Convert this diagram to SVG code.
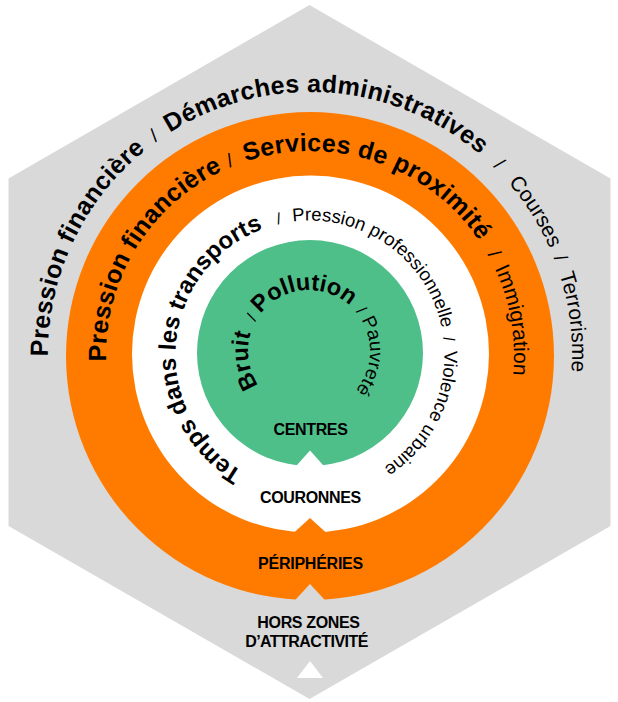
<svg xmlns="http://www.w3.org/2000/svg" xmlns:xlink="http://www.w3.org/1999/xlink" width="618" height="702" viewBox="0 0 618 702">
  <style>
    text { font-family: "Liberation Sans", Arial, sans-serif; fill: #000; }
    .big { font-size: 25px; font-weight: bold; letter-spacing: 0.3px; }
    .reg { font-size: 21px; }
    .sl { font-size: 19px; }
    .mid { font-size: 24px; font-weight: bold; }
    .sm { font-size: 18.5px; }
    .sl2 { font-size: 16px; }
    .cb { font-size: 23.5px; font-weight: bold; }
    .cr { font-size: 19px; }
    .lab { font-size: 16px; font-weight: bold; text-anchor: middle; letter-spacing: -0.35px; }
    .tp { text-anchor: middle; }
  </style>
  <defs>
    <path id="pg" d="M310,616 A262,262 0 1,1 310,92 A262,262 0 1,1 310,616"/>
    <path id="po" d="M310,559 A204,204 0 1,1 310,151 A204,204 0 1,1 310,559"/>
    <path id="pw" d="M310,489.5 A134.5,134.5 0 1,1 310,220.5 A134.5,134.5 0 1,1 310,489.5"/>
    <path id="pc" d="M309,412 A61,61 0 1,1 309,290 A61,61 0 1,1 309,412"/>
  </defs>

  <g id="hors-zones">
    <polygon points="309.5,5 610.5,178.5 610.5,526 309.5,699 8.5,526 8.5,178.5" fill="#d9d9d9"/>
    <polygon points="310,661 297,678 323,678" fill="#ffffff"/>
  </g>

  <g id="peripheries">
    <circle cx="310" cy="356" r="244" fill="#ff7b00"/>
    <polygon points="310,584 291.5,604 328.5,604" fill="#d9d9d9"/>
  </g>

  <g id="couronnes">
    <circle cx="310.5" cy="354" r="178.5" fill="#ffffff"/>
    <polygon points="310,518 288,538 332,538" fill="#ff7b00"/>
  </g>

  <g id="centres">
    <circle cx="310" cy="353" r="113" fill="#4fbf8a"/>
    <polygon points="310,450.5 292.5,470 327.5,470" fill="#ffffff"/>
  </g>

  <g id="texts-outer">
    <text class="big"><textPath xlink:href="#pg" href="#pg" startOffset="527.2" class="tp">Pression financière</textPath></text>
    <text class="sl"><textPath xlink:href="#pg" href="#pg" startOffset="660.3" class="tp">/</textPath></text>
    <text class="big"><textPath xlink:href="#pg" href="#pg" startOffset="841.4" class="tp">Démarches administratives</textPath></text>
    <text class="sl"><textPath xlink:href="#pg" href="#pg" startOffset="1028" class="tp">/</textPath></text>
    <text class="reg"><textPath xlink:href="#pg" href="#pg" startOffset="1086.5" class="tp">Courses</textPath></text>
    <text class="sl"><textPath xlink:href="#pg" href="#pg" startOffset="1138.2" class="tp">/</textPath></text>
    <text class="reg"><textPath xlink:href="#pg" href="#pg" startOffset="1202.6" class="tp">Terrorisme</textPath></text>
  </g>

  <g id="texts-orange">
    <text class="big"><textPath xlink:href="#po" href="#po" startOffset="432.2" class="tp">Pression financière</textPath></text>
    <text class="sl"><textPath xlink:href="#po" href="#po" startOffset="560.8" class="tp">/</textPath></text>
    <text class="big"><textPath xlink:href="#po" href="#po" startOffset="707.5" class="tp">Services de proximité</textPath></text>
    <text class="sl"><textPath xlink:href="#po" href="#po" startOffset="858.4" class="tp">/</textPath></text>
    <text class="reg"><textPath xlink:href="#po" href="#po" startOffset="926.4" class="tp">Immigration</textPath></text>
  </g>

  <g id="texts-white">
    <text class="mid"><textPath xlink:href="#pw" href="#pw" startOffset="222.4" class="tp">Temps dans les transports</textPath></text>
    <text class="sl2"><textPath xlink:href="#pw" href="#pw" startOffset="392" class="tp">/</textPath></text>
    <text class="sm"><textPath xlink:href="#pw" href="#pw" startOffset="505.9" class="tp">Pression professionnelle</textPath></text>
    <text class="sl2"><textPath xlink:href="#pw" href="#pw" startOffset="618.1" class="tp">/</textPath></text>
    <text class="sm"><textPath xlink:href="#pw" href="#pw" startOffset="698.1" class="tp">Violence urbaine</textPath></text>
  </g>

  <g id="texts-green">
    <text class="cb"><textPath xlink:href="#pc" href="#pc" startOffset="86.6" class="tp">Bruit</textPath></text>
    <text class="sl2"><textPath xlink:href="#pc" href="#pc" startOffset="128" class="tp">/</textPath></text>
    <text class="cb"><textPath xlink:href="#pc" href="#pc" startOffset="185.9" class="tp">Pollution</textPath></text>
    <text class="sl2"><textPath xlink:href="#pc" href="#pc" startOffset="246.7" class="tp">/</textPath></text>
    <text class="cr"><textPath xlink:href="#pc" href="#pc" startOffset="292" class="tp">Pauvreté</textPath></text>
  </g>

  <g id="labels">
    <text class="lab" x="310.5" y="435">CENTRES</text>
    <text class="lab" x="310.5" y="502.5">COURONNES</text>
    <text class="lab" x="310.5" y="569" style="letter-spacing:-0.25px">PÉRIPHÉRIES</text>
    <text class="lab" x="308.5" y="628.3">HORS ZONES</text>
    <text class="lab" x="306.5" y="646.7" style="letter-spacing:-0.55px">D’ATTRACTIVITÉ</text>
  </g>
</svg>
